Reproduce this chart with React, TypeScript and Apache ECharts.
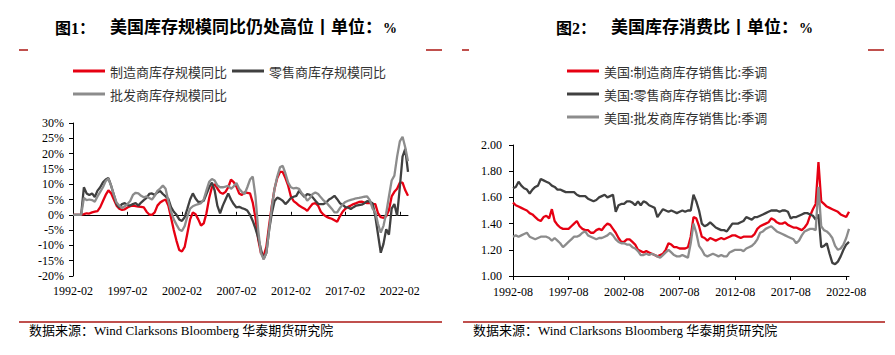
import React, { useEffect, useRef } from 'react';
import * as echarts from 'echarts';

// ---------- Left chart: YoY inventory growth (%), quarterly samples from 1992-02 ----------
const leftStart = { year: 1992, month: 2 };
const leftRed = [
  0, 0, 0, 0, 0.2, 0.5, 0.4, 0.8, 1.0, 1.2,
  2.5, 4.5, 6.5, 8.0, 7.0, 5.0, 3.0, 2.0, 1.6, 1.8,
  2.4, 2.8, 3.0, 2.8, 2.7, 2.6, 2.4, 1.0, 0.1, 0.0,
  0.8, 3.0, 4.0, 4.6, 5.0, 3.0, -1.0, -5.0, -8.5, -11.5,
  -12.0, -10.5, -6.0, -1.5, 0.8, 0.2, -1.5, -3.5, -2.8, 0.5,
  5.5, 9.0, 10.0, 8.6, 7.3, 6.9, 7.5, 9.0, 11.5, 10.7,
  9.2, 7.0, 6.5, 7.3, 7.2, 7.0, 4.0, -1.0, -8.0, -12.5,
  -13.5, -10.5, -3.5, 3.0, 8.5, 12.0, 14.0, 14.0, 12.0, 9.5,
  6.0, 4.5, 3.8, 3.0, 2.5, 2.0, 1.3, 2.5, 3.6, 3.8,
  3.0, 1.0, 0.0, -0.6, -1.0, -1.3, -1.8, -2.3, -0.5, 1.0,
  2.0, 2.6, 3.0, 3.5, 3.8, 4.2, 4.3, 4.0, 3.8, 3.8,
  3.6, 3.5, 0.5, -0.8, -1.0, -0.5, 1.5, 6.0, 7.5, 8.5,
  10.5, 10.5, 8.0, 6.2,
];
const leftDark = [
  0, 0, 0, 0, 9.0, 7.0, 6.5, 7.0, 5.8, 7.9,
  9.0, 10.6, 11.5, 12.0, 9.5, 6.5, 3.5, 2.4, 3.5, 3.8,
  3.2, 3.0, 3.5, 3.8, 3.0, 4.0, 4.8, 5.5, 6.8, 7.0,
  6.5, 7.3, 7.8, 6.8, 6.0, 5.2, 2.5, 1.0, 0.0, -1.5,
  -2.0, -0.8, 2.0, 5.0, 7.0, 5.3, 4.2, 4.2, 4.6, 6.8,
  9.0, 10.5, 8.0, 3.0, 0.5, 3.0, 5.0, 7.0, 5.0, 3.5,
  2.4, 2.6, 2.2, 1.9, 1.4, 0.0, -2.0, -4.5, -7.5, -11.3,
  -14.5, -12.4, -5.0, 0.5, 4.5, 5.6, 5.2, 4.6, 3.5, 4.4,
  5.5, 5.9, 6.2, 7.8, 6.8, 5.8, 6.8, 6.5, 5.7, 4.6,
  3.6, 3.5, 3.5, 4.0, 5.0, 5.5, 6.2, 5.1, 3.8, 3.3,
  2.5, 2.4, 1.9, 2.5, 3.0, 3.2, 3.3, 3.8, 4.5, 4.3,
  3.8, -0.5, -6.5, -12.4, -9.5, -4.7, -6.5, 2.0, 3.5, -0.3,
  9.0, 19.0, 21.5, 14.0,
];
const leftGray = [
  0, 0, 0, 0, 5.5, 4.8, 5.0, 4.8, 4.3, 6.0,
  7.5, 9.0, 11.0, 11.8, 9.5, 6.5, 4.0, 3.0, 2.2, 2.8,
  3.5, 4.5, 6.5, 7.2, 7.0, 6.2, 5.7, 6.0, 5.5, 5.0,
  6.2, 7.8, 8.6, 9.6, 8.5, 4.5, 1.0, -1.5, -3.2, -4.8,
  -5.3, -3.7, -0.5, 2.0, 2.8, 3.2, 3.5, 3.8, 5.0, 8.0,
  10.8, 11.7, 11.2, 9.6, 9.0, 9.0, 9.2, 9.5, 8.5, 9.3,
  10.4, 8.5, 7.5, 6.8, 9.0, 11.5, 12.5, 6.0, -5.0, -12.5,
  -14.5, -12.4, -5.0, 2.5, 8.5, 12.5, 15.5, 16.0, 13.5, 10.5,
  9.0, 8.6, 8.8, 8.5, 7.0, 6.2, 4.6, 5.5, 6.8, 7.3,
  6.8, 5.7, 4.7, 4.0, 3.0, 2.0, 0.8, 0.8, 2.2, 3.4,
  4.2, 4.6, 4.9, 5.1, 5.4, 5.5, 5.7, 5.9, 6.0, 4.8,
  2.0, 0.8, -3.0, -5.8, -3.6, 0.5, 6.0, 11.2, 12.8, 19.0,
  24.0, 25.5, 22.0, 17.5,
];

// ---------- Right chart: inventory / sales ratio, quarterly samples from 1992-08 ----------
const rightStart = { year: 1992, month: 8 };
const rightRed = [
  1.56, 1.54, 1.53, 1.52, 1.51, 1.50, 1.48, 1.47, 1.45, 1.43,
  1.42, 1.45, 1.46, 1.44, 1.51, 1.42, 1.39, 1.37, 1.36, 1.36,
  1.36, 1.38, 1.40, 1.42, 1.38, 1.36, 1.35, 1.35, 1.33, 1.33,
  1.35, 1.36, 1.35, 1.38, 1.40, 1.39, 1.36, 1.33, 1.29, 1.26,
  1.26, 1.28, 1.28, 1.26, 1.24, 1.20, 1.19, 1.18, 1.19, 1.18,
  1.17, 1.16, 1.15, 1.16, 1.17, 1.20, 1.25, 1.24, 1.22, 1.22,
  1.21, 1.21, 1.21, 1.22, 1.30, 1.45, 1.44, 1.38, 1.30, 1.29,
  1.27, 1.29, 1.28, 1.27, 1.28, 1.29, 1.28, 1.29, 1.30, 1.31,
  1.31, 1.30, 1.29, 1.30, 1.30, 1.30, 1.30, 1.32, 1.36, 1.38,
  1.39, 1.40, 1.41, 1.44, 1.43, 1.41, 1.40, 1.40, 1.41, 1.39,
  1.38, 1.37, 1.37, 1.36, 1.35, 1.37, 1.40, 1.46, 1.51, 1.55,
  1.87, 1.57, 1.55, 1.53, 1.52, 1.51, 1.50, 1.49, 1.47, 1.46,
  1.45, 1.49,
];
const rightDark = [
  1.67, 1.68, 1.72, 1.69, 1.67, 1.66, 1.63, 1.66, 1.68, 1.69,
  1.74, 1.73, 1.72, 1.71, 1.69, 1.68, 1.66, 1.66, 1.65, 1.64,
  1.64, 1.64, 1.64, 1.62, 1.61, 1.61, 1.61, 1.59, 1.58, 1.57,
  1.58, 1.60, 1.61, 1.62, 1.60, 1.61, 1.62, 1.49, 1.54, 1.55,
  1.55, 1.57, 1.57, 1.56, 1.54, 1.57, 1.54, 1.57, 1.56, 1.54,
  1.53, 1.52, 1.45, 1.48, 1.51, 1.50, 1.49, 1.50, 1.49, 1.48,
  1.49, 1.50, 1.49, 1.50, 1.50, 1.62, 1.57, 1.50, 1.40, 1.38,
  1.39, 1.41, 1.39, 1.37, 1.36, 1.35, 1.35, 1.34, 1.37, 1.40,
  1.40, 1.40, 1.41, 1.42, 1.45, 1.44, 1.43, 1.45, 1.45, 1.46,
  1.47, 1.48, 1.49, 1.50, 1.50, 1.50, 1.49, 1.50, 1.50, 1.49,
  1.44, 1.45, 1.45, 1.46, 1.47, 1.48, 1.48, 1.47, 1.46, 1.43,
  1.47, 1.22, 1.23, 1.25, 1.17, 1.10, 1.09, 1.11, 1.15, 1.20,
  1.24, 1.26,
];
const rightGray = [
  1.30, 1.31, 1.30, 1.31, 1.32, 1.33, 1.30, 1.29, 1.28, 1.29,
  1.30, 1.30, 1.30, 1.29, 1.27, 1.29, 1.27, 1.25, 1.22, 1.24,
  1.26, 1.28, 1.30, 1.30, 1.31, 1.33, 1.34, 1.31, 1.30, 1.29,
  1.28, 1.29, 1.29, 1.30, 1.31, 1.33, 1.31, 1.28, 1.26, 1.25,
  1.25, 1.24, 1.24, 1.22, 1.21, 1.19, 1.16, 1.16, 1.17, 1.16,
  1.17, 1.16, 1.15, 1.14, 1.16, 1.18, 1.20, 1.18, 1.16, 1.15,
  1.15, 1.16, 1.15, 1.14, 1.25, 1.40, 1.33, 1.23, 1.20, 1.16,
  1.15, 1.16, 1.17, 1.16, 1.15, 1.16, 1.15, 1.15, 1.18, 1.19,
  1.20, 1.20, 1.20, 1.19, 1.21, 1.22, 1.23, 1.25, 1.28, 1.33,
  1.34, 1.36, 1.37, 1.38, 1.36, 1.34, 1.33, 1.32, 1.31, 1.30,
  1.29, 1.28, 1.25, 1.27, 1.31, 1.34, 1.35, 1.36, 1.36, 1.35,
  1.68, 1.38, 1.35, 1.34, 1.32, 1.29, 1.23, 1.20, 1.21, 1.24,
  1.29, 1.36,
];

const leftNames = ['制造商库存规模同比', '零售商库存规模同比', '批发商库存规模同比'];
const rightNames = ['美国:制造商库存销售比:季调', '美国:零售商库存销售比:季调', '美国:批发商库存销售比:季调'];
const leftTitleLead = '图1：';
const leftTitle = '美国库存规模同比仍处高位丨单位：';
const rightTitleLead = '图2：';
const rightTitle = '美国库存消费比丨单位：';
const titleUnit = '%';
const sourceText = '数据来源：Wind Clarksons Bloomberg 华泰期货研究院';

const COLORS = ['#E60012', '#404040', '#8C8C8C'];
const SERIF = '"Liberation Serif", "Times New Roman", serif';
const CJK = '"Noto Sans CJK SC", sans-serif';
const MIXED = '"Liberation Serif", "Noto Sans CJK SC", serif';
const DECO = '#C0504D';

function quarterCats(start: { year: number; month: number }, n: number): string[] {
  const out: string[] = [];
  const base = start.year * 12 + (start.month - 1);
  for (let k = 0; k < n; k++) {
    const t = base + 3 * k;
    const yy = Math.floor(t / 12);
    const mm = (t % 12) + 1;
    out.push(`${yy}-${String(mm).padStart(2, '0')}`);
  }
  return out;
}

export default function App() {
  const ref = useRef<HTMLDivElement>(null);
  useEffect(() => {
    if (!ref.current) return;
    const chart = echarts.init(ref.current, undefined, { renderer: 'svg' });
    const leftCats = quarterCats(leftStart, leftRed.length);
    const rightCats = quarterCats(rightStart, rightRed.length);

    const axisText = { fontFamily: SERIF, fontSize: 12, color: '#000' };
    const blackLine = { color: '#000', width: 1 };

    const mkSeries = (name: string, data: number[], color: string, xi: number, yi: number, z: number) => ({
      name,
      type: 'line',
      xAxisIndex: xi,
      yAxisIndex: yi,
      data,
      symbol: 'none',
      showSymbol: false,
      z,
      lineStyle: { color, width: 2.3 },
      itemStyle: { color },
      emphasis: { disabled: true },
    });

    const legendBase = {
      orient: 'horizontal',
      icon: 'rect',
      itemWidth: 32,
      itemHeight: 3,
      itemGap: 5,
      padding: 0,
      selectedMode: false,
      textStyle: { fontFamily: CJK, fontSize: 13, color: '#333', lineHeight: 14 },
    };

    const option: any = {
      animation: false,
      backgroundColor: '#fff',
      grid: [
        { left: 73, top: 123, width: 335, height: 153, containLabel: false },
        { left: 513, top: 145, width: 336, height: 131, containLabel: false },
      ],
      legend: [
        { ...legendBase, left: 73, top: 64, data: [leftNames[0], leftNames[1]] },
        { ...legendBase, left: 73, top: 87, data: [leftNames[2]] },
        { ...legendBase, left: 567, top: 64, data: [rightNames[0]] },
        { ...legendBase, left: 567, top: 87, data: [rightNames[1]] },
        { ...legendBase, left: 567, top: 110, data: [rightNames[2]] },
      ],
      xAxis: [
        {
          gridIndex: 0,
          type: 'category',
          data: leftCats,
          boundaryGap: false,
          axisLine: { show: false, onZero: false },
          axisTick: { show: false },
          axisLabel: { ...axisText, interval: 19, margin: 9 },
          splitLine: { show: false },
        },
        {
          gridIndex: 0,
          type: 'category',
          data: leftCats,
          boundaryGap: false,
          axisLine: { show: true, onZero: true, lineStyle: blackLine },
          axisTick: { show: true, interval: 19, length: 3, lineStyle: blackLine },
          axisLabel: { show: false },
          splitLine: { show: false },
        },
        {
          gridIndex: 1,
          type: 'category',
          data: rightCats,
          boundaryGap: false,
          axisLine: { show: true, onZero: false, lineStyle: blackLine },
          axisTick: { show: true, interval: 19, length: 4, lineStyle: blackLine },
          axisLabel: { ...axisText, interval: 19, margin: 10 },
          splitLine: { show: false },
        },
      ],
      yAxis: [
        {
          gridIndex: 0,
          type: 'value',
          min: -20,
          max: 30,
          interval: 5,
          axisLine: { show: true, onZero: false, lineStyle: blackLine },
          axisTick: { show: true, length: 4, lineStyle: blackLine },
          axisLabel: { ...axisText, margin: 9, formatter: '{value}%' },
          splitLine: { show: false },
        },
        {
          gridIndex: 1,
          type: 'value',
          min: 1,
          max: 2,
          interval: 0.2,
          axisLine: { show: true, onZero: false, lineStyle: blackLine },
          axisTick: { show: true, length: 4, lineStyle: blackLine },
          axisLabel: { ...axisText, margin: 11, formatter: (v: number) => v.toFixed(2) },
          splitLine: { show: false },
        },
      ],
      series: [
        mkSeries(leftNames[0], leftRed, COLORS[0], 0, 0, 2),
        mkSeries(leftNames[1], leftDark, COLORS[1], 0, 0, 3),
        mkSeries(leftNames[2], leftGray, COLORS[2], 0, 0, 4),
        mkSeries(rightNames[0], rightRed, COLORS[0], 2, 1, 2),
        mkSeries(rightNames[1], rightDark, COLORS[1], 2, 1, 3),
        mkSeries(rightNames[2], rightGray, COLORS[2], 2, 1, 4),
      ],
      graphic: [
        { type: 'text', left: 55, top: 20, style: { text: leftTitleLead, font: `bold 16px ${MIXED}`, fill: '#000' } },
        { type: 'text', left: 110, top: 19, style: { text: leftTitle, font: `bold 17px ${MIXED}`, fill: '#000' } },
        { type: 'text', left: 383, top: 21, style: { text: titleUnit, font: `bold 14px ${SERIF}`, fill: '#000' } },
        { type: 'text', left: 556, top: 20, style: { text: rightTitleLead, font: `bold 16px ${MIXED}`, fill: '#000' } },
        { type: 'text', left: 611, top: 19, style: { text: rightTitle, font: `bold 17px ${MIXED}`, fill: '#000' } },
        { type: 'text', left: 799, top: 21, style: { text: titleUnit, font: `bold 14px ${SERIF}`, fill: '#000' } },
        { type: 'rect', shape: { x: 19, y: 49, width: 9, height: 2 }, style: { fill: DECO } },
        { type: 'rect', shape: { x: 426, y: 49, width: 16, height: 2 }, style: { fill: DECO } },
        { type: 'rect', shape: { x: 462, y: 49, width: 7, height: 2 }, style: { fill: DECO } },
        { type: 'rect', shape: { x: 868, y: 49, width: 16, height: 2 }, style: { fill: DECO } },
        { type: 'rect', shape: { x: 19, y: 321, width: 423, height: 2 }, style: { fill: DECO } },
        { type: 'rect', shape: { x: 463, y: 321, width: 422, height: 2 }, style: { fill: DECO } },
        { type: 'text', left: 29, top: 324, style: { text: sourceText, font: `13px ${MIXED}`, fill: '#000' } },
        { type: 'text', left: 473, top: 324, style: { text: sourceText, font: `13px ${MIXED}`, fill: '#000' } },
      ],
    };
    chart.setOption(option);
    return () => chart.dispose();
  }, []);
  return (
    <div
      ref={ref}
      style={{ position: 'absolute', left: 0, top: 0, width: 895, height: 355, background: '#fff' }}
    />
  );
}
